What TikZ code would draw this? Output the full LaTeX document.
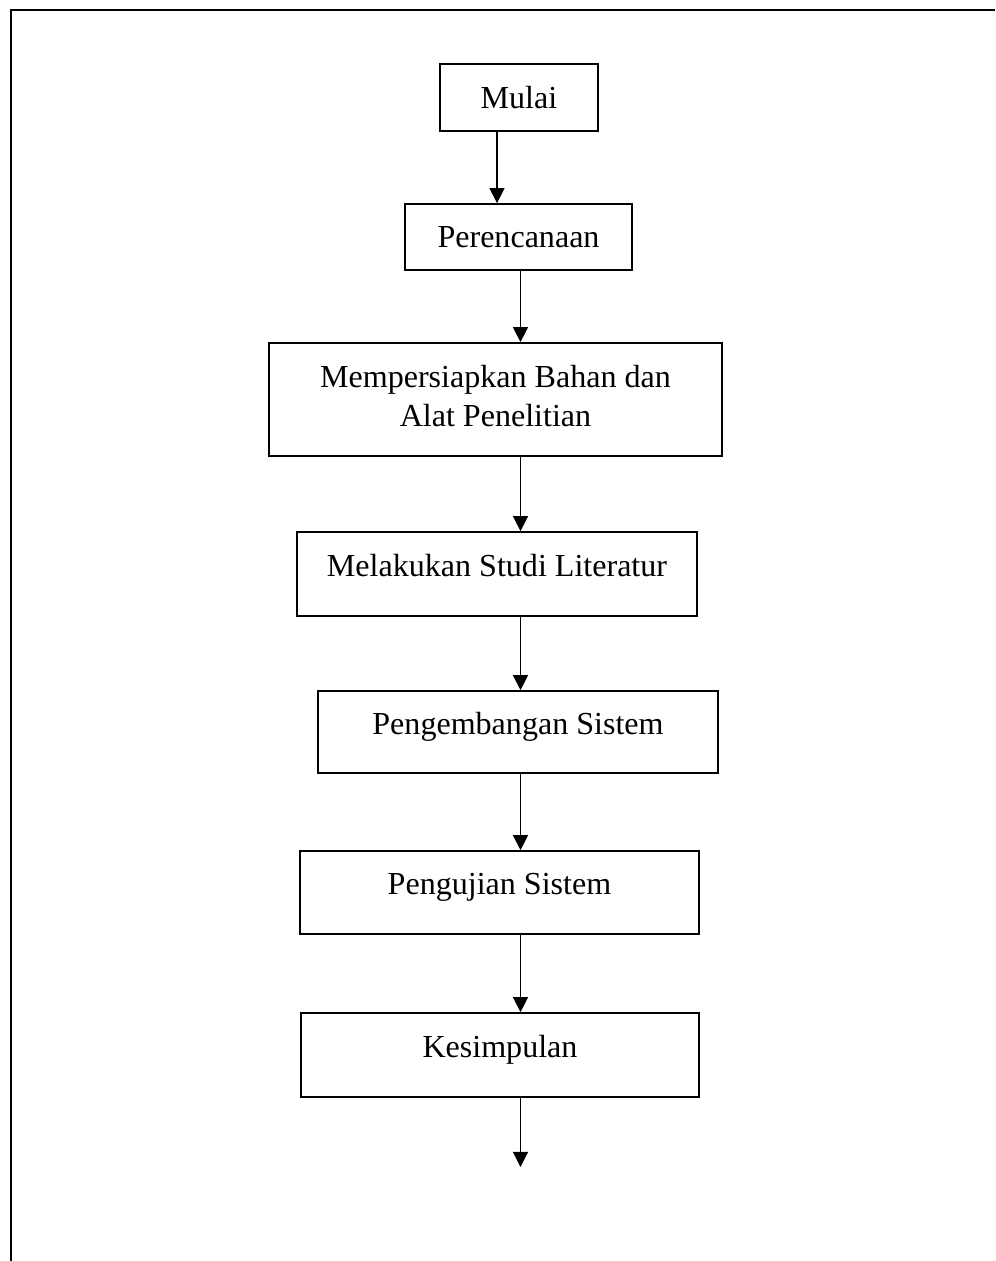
\documentclass[tikz,border=0pt]{standalone}
\usepackage{fontspec}
\setmainfont{Liberation Serif}
\usetikzlibrary{arrows.meta}

\begin{document}
\begin{tikzpicture}[
  x=0.025cm, y=-0.025cm,
  box/.style={draw, rectangle, line width=1.2pt, inner sep=0pt, align=center,
    font=\fontsize{22.8}{27.7}\selectfont, text height=16pt, text depth=12.5pt},
  boxtop/.style={box, text depth=1pt},
  arr/.style={draw, line width=0.75pt, -{Triangle[length=10.7pt, width=10.7pt]}},
  frame/.style={draw, line width=1.4pt}
]
\useasboundingbox (0,0) rectangle (995,1261);

% garis tepi halaman
\draw[frame] (11,1261) -- (11,10) -- (995,10);

\node[boxtop, minimum width=3.95cm, minimum height=1.675cm] (mulai) at (519,97.5) {Mulai};
\node[boxtop, minimum width=5.675cm, minimum height=1.65cm] (rencana) at (518.5,237) {Perencanaan};
\node[box, text height=40pt, text depth=2pt, minimum width=11.325cm, minimum height=2.825cm] (alat) at (495.5,399.5)
  {Mempersiapkan Bahan dan\\Alat Penelitian};
\node[box, minimum width=10cm, minimum height=2.1cm] (studi) at (497,574) {Melakukan Studi Literatur};
\node[box, minimum width=10cm, minimum height=2.05cm] (kembang) at (518,732) {Pengembangan Sistem};
\node[box, minimum width=9.975cm, minimum height=2.075cm] (uji) at (499.5,892.5) {Pengujian Sistem};
\node[box, minimum width=9.95cm, minimum height=2.1cm] (simpul) at (500,1055) {Kesimpulan};

\coordinate (kiri) at (497,0);
\coordinate (kanan) at (520.5,0);
\coordinate (akhir) at (520.5,1167);

\draw[arr] (mulai.south -| kiri) -- (rencana.north -| kiri);
\draw[arr] (rencana.south -| kanan) -- (alat.north -| kanan);
\draw[arr] (alat.south -| kanan) -- (studi.north -| kanan);
\draw[arr] (studi.south -| kanan) -- (kembang.north -| kanan);
\draw[arr] (kembang.south -| kanan) -- (uji.north -| kanan);
\draw[arr] (uji.south -| kanan) -- (simpul.north -| kanan);
\draw[arr] (simpul.south -| kanan) -- (akhir);
\end{tikzpicture}
\end{document}
